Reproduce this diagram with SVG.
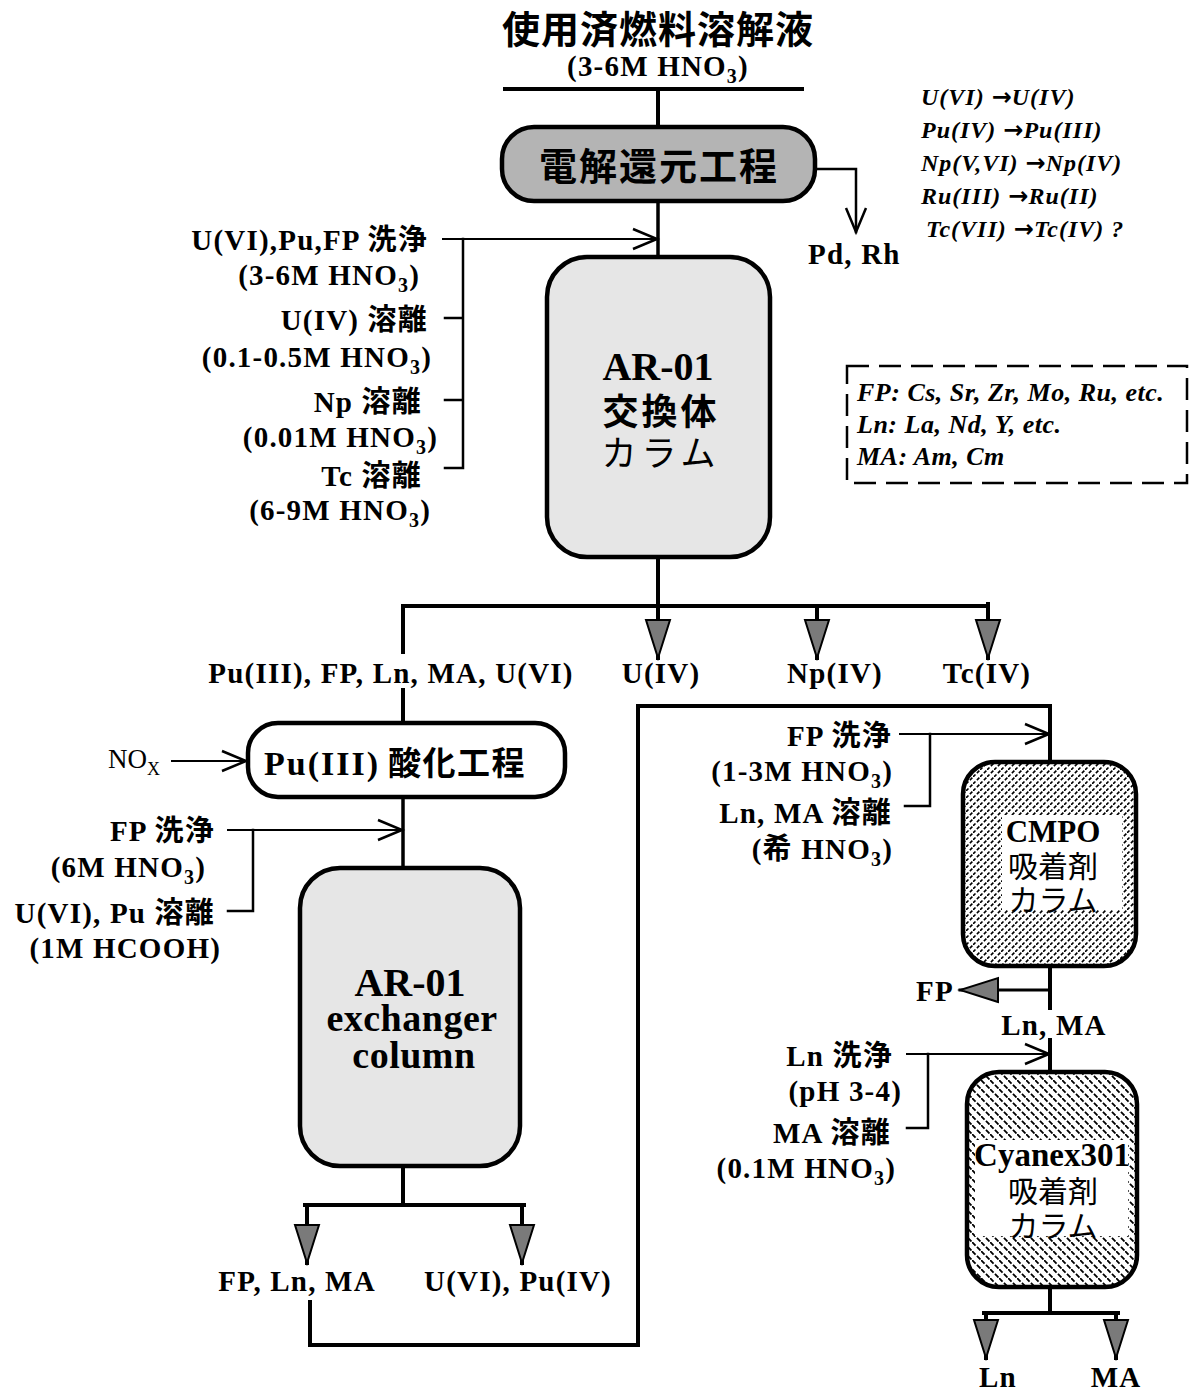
<svg xmlns="http://www.w3.org/2000/svg" width="1191" height="1393" viewBox="0 0 1191 1393">
<style>
.t{font-family:"Liberation Serif","Noto Sans CJK JP",serif;font-weight:bold;fill:#000}
.lab{font-size:29px;letter-spacing:1.2px}
.j{font-family:"Noto Sans CJK JP",sans-serif;font-weight:bold;fill:#000}
.jn{font-family:"Noto Sans CJK JP",sans-serif;font-weight:normal;fill:#000}
.i{font-family:"Liberation Serif",serif;font-weight:bold;font-style:italic;fill:#000;font-size:24px;letter-spacing:1px}
.ar{font-family:"DejaVu Sans",sans-serif;font-style:normal;font-weight:bold;font-size:24px;letter-spacing:0}
.lg{font-family:"Liberation Serif",serif;font-weight:bold;font-style:italic;fill:#000;font-size:26px;letter-spacing:0.5px}
.n{font-family:"Liberation Serif",serif;fill:#000}
.sub{font-size:20px}
.ln{stroke:#000;fill:none;stroke-linecap:square}
.main{stroke-width:4}
.thin{stroke-width:2.5}
.box{stroke:#000;stroke-width:4.5}
</style>
<defs>
<marker id="open" markerUnits="userSpaceOnUse" markerWidth="30" markerHeight="26" refX="26" refY="13" orient="auto">
<path d="M2,3 L26,13 L2,23" fill="none" stroke="#000" stroke-width="2.5"/>
</marker>
<marker id="tri" markerUnits="userSpaceOnUse" markerWidth="42" markerHeight="30" refX="39" refY="15" orient="auto">
<path d="M1,3 L39,15 L1,27 Z" fill="#7a7a7a" stroke="#000" stroke-width="2"/>
</marker>
<pattern id="hatchA" patternUnits="userSpaceOnUse" width="7" height="7">
<rect width="7" height="7" fill="#fff"/>
<path d="M0,7 L7,0" stroke="#000" stroke-width="1.6" stroke-dasharray="3.5 2"/>
</pattern>
<pattern id="hatchB" patternUnits="userSpaceOnUse" width="9" height="9">
<rect width="9" height="9" fill="#fff"/>
<path d="M0,0 L9,9" stroke="#000" stroke-width="1.8" stroke-dasharray="5 2"/>
</pattern>
</defs>

<g id="title">
<text class="j" x="658" y="43" font-size="38" text-anchor="middle" letter-spacing="1">使用済燃料溶解液</text>
<text class="t lab" x="658" y="76" text-anchor="middle">(3-6M HNO<tspan class="sub" dy="7">3</tspan><tspan dy="-7">)</tspan></text>
</g>

<g id="electrolysis">
<rect x="502" y="127" width="313" height="74" rx="32" fill="#b4b4b4" class="box"/>
<text class="j" x="659" y="180" font-size="38" text-anchor="middle" letter-spacing="2">電解還元工程</text>
</g>

<g id="reactions">
<text class="i" x="921" y="105">U(VI) <tspan class="ar">→</tspan>U(IV)</text>
<text class="i" x="921" y="138">Pu(IV) <tspan class="ar">→</tspan>Pu(III)</text>
<text class="i" x="921" y="171">Np(V,VI) <tspan class="ar">→</tspan>Np(IV)</text>
<text class="i" x="921" y="204">Ru(III) <tspan class="ar">→</tspan>Ru(II)</text>
<text class="i" x="926" y="237">Tc(VII) <tspan class="ar">→</tspan>Tc(IV) ?</text>
</g>

<g id="pdrh">
<text class="t lab" x="808" y="264">Pd, Rh</text>
</g>

<g id="feed1-labels">
<text class="t lab" x="428" y="250" text-anchor="end">U(VI),Pu,FP 洗浄</text>
<text class="t lab" x="420" y="285" text-anchor="end">(3-6M HNO<tspan class="sub" dy="7">3</tspan><tspan dy="-7">)</tspan></text>
<text class="t lab" x="428" y="330" text-anchor="end">U(IV) 溶離</text>
<text class="t lab" x="432" y="367" text-anchor="end">(0.1-0.5M HNO<tspan class="sub" dy="7">3</tspan><tspan dy="-7">)</tspan></text>
<text class="t lab" x="422" y="412" text-anchor="end">Np 溶離</text>
<text class="t lab" x="438" y="447" text-anchor="end">(0.01M HNO<tspan class="sub" dy="7">3</tspan><tspan dy="-7">)</tspan></text>
<text class="t lab" x="422" y="486" text-anchor="end">Tc 溶離</text>
<text class="t lab" x="431" y="520" text-anchor="end">(6-9M HNO<tspan class="sub" dy="7">3</tspan><tspan dy="-7">)</tspan></text>
</g>

<g id="ar01-column">
<rect x="547" y="257" width="223" height="300" rx="40" fill="#e6e6e6" class="box"/>
<text class="t" x="658" y="380" font-size="40" text-anchor="middle">AR-01</text>
<text class="j" x="661" y="425" font-size="36" text-anchor="middle" letter-spacing="3">交換体</text>
<text class="jn" x="661" y="466" font-size="35" text-anchor="middle" letter-spacing="5">カラム</text>
</g>

<g id="legend">
<rect x="847" y="366" width="340" height="117" fill="none" stroke="#000" stroke-width="2.5" stroke-dasharray="22 10"/>
<text class="lg" x="857" y="401">FP: Cs, Sr, Zr, Mo, Ru, etc.</text>
<text class="lg" x="857" y="433">Ln: La, Nd, Y, etc.</text>
<text class="lg" x="857" y="465">MA: Am, Cm</text>
</g>

<g id="products1">
<text class="t lab" x="391" y="683" text-anchor="middle">Pu(III), FP, Ln, MA, U(VI)</text>
<text class="t lab" x="661" y="683" text-anchor="middle">U(IV)</text>
<text class="t lab" x="835" y="683" text-anchor="middle">Np(IV)</text>
<text class="t lab" x="987" y="683" text-anchor="middle">Tc(IV)</text>
</g>

<g id="nox">
<text class="n" x="108" y="768" font-size="27">NO<tspan font-size="18" dy="7">X</tspan></text>
</g>

<g id="pu-oxidation">
<rect x="248" y="723" width="317" height="74" rx="30" fill="#fff" class="box"/>
<text class="t" x="264" y="775" font-size="34" letter-spacing="2">Pu(III)<tspan class="j" font-size="33" letter-spacing="1.5" dx="8">酸化工程</tspan></text>
</g>

<g id="feed2-labels">
<text class="t lab" x="215" y="841" text-anchor="end">FP 洗浄</text>
<text class="t lab" x="206" y="877" text-anchor="end">(6M HNO<tspan class="sub" dy="7">3</tspan><tspan dy="-7">)</tspan></text>
<text class="t lab" x="215" y="923" text-anchor="end">U(VI), Pu 溶離</text>
<text class="t lab" x="221" y="958" text-anchor="end">(1M HCOOH)</text>
</g>

<g id="ar01-exchanger">
<rect x="300" y="868" width="220" height="298" rx="40" fill="#e6e6e6" class="box"/>
<text class="t" x="410" y="996" font-size="40" text-anchor="middle">AR-01</text>
<text class="t" x="412" y="1031" font-size="38" text-anchor="middle" letter-spacing="0.5">exchanger</text>
<text class="t" x="414" y="1068" font-size="38" text-anchor="middle" letter-spacing="0.5">column</text>
</g>

<g id="products2">
<text class="t lab" x="297" y="1291" text-anchor="middle">FP, Ln, MA</text>
<text class="t lab" x="518" y="1291" text-anchor="middle">U(VI), Pu(IV)</text>
</g>

<g id="feed3-labels">
<text class="t lab" x="892" y="746" text-anchor="end">FP 洗浄</text>
<text class="t lab" x="893" y="781" text-anchor="end">(1-3M HNO<tspan class="sub" dy="7">3</tspan><tspan dy="-7">)</tspan></text>
<text class="t lab" x="892" y="823" text-anchor="end">Ln, MA 溶離</text>
<text class="t lab" x="893" y="859" text-anchor="end">(希 HNO<tspan class="sub" dy="7">3</tspan><tspan dy="-7">)</tspan></text>
</g>

<g id="cmpo-column">
<rect x="963" y="762" width="173" height="204" rx="32" fill="url(#hatchA)" class="box"/>
<rect x="1002" y="815" width="120" height="95" fill="#fff"/>
<text class="t" x="1053" y="842" font-size="31" text-anchor="middle">CMPO</text>
<text class="jn" x="1053" y="877" font-size="30" text-anchor="middle">吸着剤</text>
<text class="jn" x="1053" y="911" font-size="30" text-anchor="middle">カラム</text>
</g>

<g id="fp-out">
<text class="t lab" x="916" y="1001">FP</text>
</g>

<g id="lnma">
<text class="t lab" x="1054" y="1035" text-anchor="middle">Ln, MA</text>
</g>

<g id="feed4-labels">
<text class="t lab" x="893" y="1066" text-anchor="end">Ln 洗浄</text>
<text class="t lab" x="902" y="1101" text-anchor="end">(pH 3-4)</text>
<text class="t lab" x="891" y="1143" text-anchor="end">MA 溶離</text>
<text class="t lab" x="896" y="1178" text-anchor="end">(0.1M HNO<tspan class="sub" dy="7">3</tspan><tspan dy="-7">)</tspan></text>
</g>

<g id="cyanex-column">
<rect x="967" y="1072" width="170" height="215" rx="32" fill="url(#hatchB)" class="box"/>
<rect x="975" y="1140" width="153" height="96" fill="#fff"/>
<text class="t" x="1052" y="1166" font-size="33" text-anchor="middle">Cyanex301</text>
<text class="jn" x="1053" y="1202" font-size="30" text-anchor="middle">吸着剤</text>
<text class="jn" x="1053" y="1237" font-size="30" text-anchor="middle">カラム</text>
</g>

<g id="products3">
<text class="t lab" x="998" y="1387" text-anchor="middle">Ln</text>
<text class="t lab" x="1116" y="1387" text-anchor="middle">MA</text>
</g>

<g id="connectors">
<path class="ln main" d="M505,89 H802"/>
<path class="ln main" d="M658,89 V127"/>
<path class="ln thin" d="M815,169 H856 V232" stroke-linecap="butt" marker-end="url(#open)"/>
<path class="ln" stroke-width="3.5" d="M658,201 V257"/>
<path class="ln" stroke-width="2" d="M443,239 H657" marker-end="url(#open)"/>
<path class="ln thin" d="M463,239 V468 M445,318 H463 M445,400 H463 M445,468 H463" stroke-linecap="butt"/>
<path class="ln main" d="M658,557 V606 M403,606 H988 M403,606 V652" stroke-linecap="butt"/>
<path class="ln main" d="M658,606 V658" stroke-linecap="butt" marker-end="url(#tri)"/>
<path class="ln main" d="M817,606 V658" stroke-linecap="butt" marker-end="url(#tri)"/>
<path class="ln main" d="M988,604 V658" stroke-linecap="butt" marker-end="url(#tri)"/>
<path class="ln main" d="M403,690 V723" stroke-linecap="butt"/>
<path class="ln" stroke-width="2" d="M172,761 H246" marker-end="url(#open)"/>
<path class="ln" stroke-width="3.5" d="M403,797 V868"/>
<path class="ln" stroke-width="2" d="M228,830 H402" marker-end="url(#open)"/>
<path class="ln thin" d="M253,830 V911 M228,911 H253" stroke-linecap="butt"/>
<path class="ln main" d="M403,1166 V1205 M305,1205 H524" stroke-linecap="butt"/>
<path class="ln main" d="M307,1205 V1263" stroke-linecap="butt" marker-end="url(#tri)"/>
<path class="ln main" d="M522,1205 V1263" stroke-linecap="butt" marker-end="url(#tri)"/>
<path class="ln main" d="M310,1302 V1345 H638 V706 H1050 V762" stroke-linejoin="miter" stroke-linecap="butt"/>
<path class="ln" stroke-width="2" d="M900,734 H1049" marker-end="url(#open)"/>
<path class="ln thin" d="M930,734 V806 M905,806 H930" stroke-linecap="butt"/>
<path class="ln main" d="M1050,966 V1008" stroke-linecap="butt"/>
<path class="ln" stroke-width="3" d="M1050,990 H960" stroke-linecap="butt" marker-end="url(#tri)"/>
<path class="ln main" d="M1050,1040 V1072" stroke-linecap="butt"/>
<path class="ln" stroke-width="2" d="M907,1054 H1049" marker-end="url(#open)"/>
<path class="ln thin" d="M928,1054 V1128 M907,1128 H928" stroke-linecap="butt"/>
<path class="ln main" d="M1050,1287 V1313 M984,1313 H1118" stroke-linecap="butt"/>
<path class="ln main" d="M986,1313 V1358" stroke-linecap="butt" marker-end="url(#tri)"/>
<path class="ln main" d="M1116,1313 V1358" stroke-linecap="butt" marker-end="url(#tri)"/>
</g>
</svg>
